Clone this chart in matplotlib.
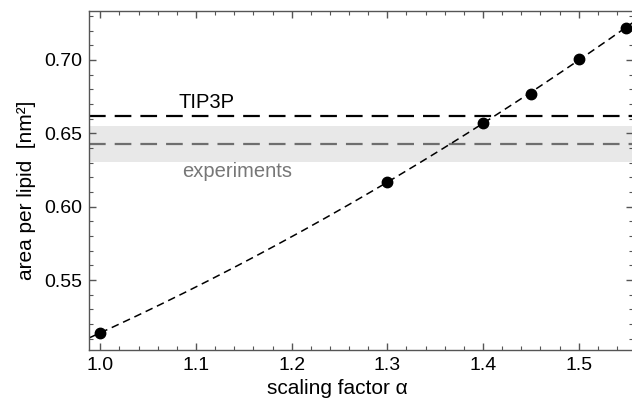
import numpy as np
import matplotlib
matplotlib.use('Agg')
import matplotlib.pyplot as plt
from matplotlib.ticker import MultipleLocator

plt.rcParams['font.family'] = ['Liberation Sans', 'DejaVu Sans']
plt.rcParams['lines.scale_dashes'] = False

# simulation results: area per lipid vs water scaling factor
alpha = [1.00, 1.30, 1.40, 1.45, 1.50, 1.55]
area = [0.514, 0.6167, 0.657, 0.677, 0.701, 0.722]

tip3p_area = 0.662
exp_area = 0.643
exp_low, exp_high = 0.6303, 0.6553

xlim = (0.9882, 1.5568)
ylim = (0.5023, 0.7334)

# quadratic fit through the simulation points
coef = np.polyfit(alpha, area, 2)
xfit = np.linspace(xlim[0], xlim[1], 300)
yfit = np.polyval(coef, xfit)

fig = plt.figure(figsize=(6.32, 3.98), dpi=100)
ax = fig.add_axes([89 / 632, 1 - 350 / 398, 544 / 632, 339 / 398])

ax.axhspan(exp_low, exp_high, color='#e8e8e8', lw=0, zorder=0)
ax.axhline(exp_area, color='#6e6e6e', lw=1.6, dashes=(12, 6.5), zorder=1)
ax.axhline(tip3p_area, color='black', lw=1.6, dashes=(12, 6.5), zorder=1)
ax.plot(xfit, yfit, color='black', lw=1.1, dashes=(5.5, 3.5), zorder=2)
ax.plot(alpha, area, 'o', color='black', ms=7.5, zorder=3, clip_on=False)

ax.text(1.1105, 0.6673, 'TIP3P', fontsize=14.5, color='black',
        ha='center', va='baseline')
ax.text(1.1429, 0.6202, 'experiments', fontsize=14.5, color='#777777',
        ha='center', va='baseline')

ax.set_xlim(*xlim)
ax.set_ylim(*ylim)
ax.xaxis.set_major_locator(MultipleLocator(0.1))
ax.xaxis.set_minor_locator(MultipleLocator(0.02))
ax.yaxis.set_major_locator(MultipleLocator(0.05))
ax.yaxis.set_minor_locator(MultipleLocator(0.01))
ax.xaxis.set_major_formatter(plt.FuncFormatter(lambda v, p: f'{v:.1f}'))
ax.yaxis.set_major_formatter(plt.FuncFormatter(lambda v, p: f'{v:.2f}'))

for s in ax.spines.values():
    s.set_color('#555555')
    s.set_linewidth(1.0)
ax.tick_params(which='both', direction='in', top=True, right=True,
               color='#555555', labelsize=14, pad=5)
ax.tick_params(which='major', length=5, width=1.0)
ax.tick_params(which='minor', length=3, width=0.8)

ax.set_xlabel('scaling factor α', fontsize=15)
ax.set_ylabel('area per lipid  [nm²]', fontsize=15)
ax.xaxis.set_label_coords(0.456, -0.085)
ax.yaxis.set_label_coords(-0.097, 0.472)

fig.savefig('out.png', dpi=100)
